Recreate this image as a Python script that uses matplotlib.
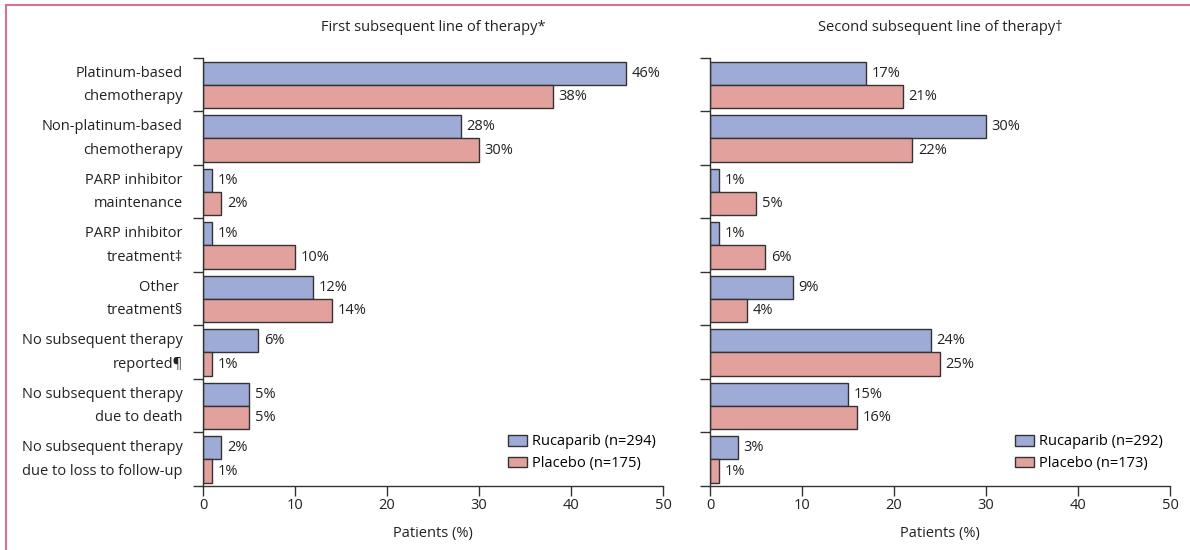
import numpy as np
import matplotlib.pyplot as plt
from matplotlib.lines import Line2D
from matplotlib.patches import Patch

plt.rcParams['font.family'] = ['Open Sans', 'DejaVu Sans']

categories = [
    ("Platinum-based", "chemotherapy"),
    ("Non-platinum-based", "chemotherapy"),
    ("PARP inhibitor", "maintenance"),
    ("PARP inhibitor", "treatment\u2021"),
    ("Other ", "treatment\u00a7"),
    ("No subsequent therapy", "reported\u00b6"),
    ("No subsequent therapy", "due to death"),
    ("No subsequent therapy", "due to loss to follow-up"),
]

# first subsequent line
first_ruca = [46, 28, 1, 1, 12, 6, 5, 2]
first_plac = [38, 30, 2, 10, 14, 1, 5, 1]
# second subsequent line
second_ruca = [17, 30, 1, 1, 9, 24, 15, 3]
second_plac = [21, 22, 5, 6, 4, 25, 16, 1]

titles = ["First subsequent line of therapy*", "Second subsequent line of therapy\u2020"]
legend_labels = [("Rucaparib (n=294)", "Placebo (n=175)"),
                 ("Rucaparib (n=292)", "Placebo (n=173)")]
xticks = [0, 10, 20, 30, 40, 50]

c_ruca = "#9dabd6"
c_plac = "#e2a19d"
txt = "#222222"
fs = 10.5

fig = plt.figure(figsize=(11.9, 5.5), dpi=100)
axes = [fig.add_axes([0.1706, 0.1164, 0.3866, 0.7782]),
        fig.add_axes([0.5966, 0.1164, 0.3866, 0.7782])]

n = len(categories)
pos = np.arange(n)
h = 0.435
y_r = pos + 0.07 + h / 2
y_p = pos + 0.07 + h + h / 2

panels = [(first_ruca, first_plac), (second_ruca, second_plac)]

for k, ax in enumerate(axes):
    ruca, plac = panels[k]
    ax.barh(y_r, ruca, height=h, color=c_ruca, edgecolor="#333333", linewidth=1.0)
    ax.barh(y_p, plac, height=h, color=c_plac, edgecolor="#333333", linewidth=1.0)
    for y, v in zip(y_r, ruca):
        ax.annotate(f"{v}%", (v, y), xytext=(4, 0), textcoords="offset points",
                    va="center", ha="left", fontsize=fs, color=txt)
    for y, v in zip(y_p, plac):
        ax.annotate(f"{v}%", (v, y), xytext=(4, 0), textcoords="offset points",
                    va="center", ha="left", fontsize=fs, color=txt)

    ax.set_xlim(0, 50)
    ax.set_ylim(n, 0)
    ax.set_yticks(np.arange(n + 1))
    ax.set_yticklabels([])
    ax.set_xticks(xticks)
    ax.tick_params(axis="y", length=7, width=1, color="#333333", direction="out")
    ax.tick_params(axis="x", length=7, width=1, color="#333333", labelsize=fs,
                   labelcolor=txt, pad=2)
    for s in ["top", "right"]:
        ax.spines[s].set_visible(False)
    for s in ["left", "bottom"]:
        ax.spines[s].set_color("#333333")
        ax.spines[s].set_linewidth(1)
    ax.set_xlabel("Patients (%)", fontsize=fs, color=txt, labelpad=9)
    ax.text(0.5, 1 + 30 / 428, titles[k], transform=ax.transAxes,
            ha="center", va="center", fontsize=fs, color=txt)

    handles = [Patch(facecolor=c_ruca, edgecolor="#333333", linewidth=1),
               Patch(facecolor=c_plac, edgecolor="#333333", linewidth=1)]
    ax.legend(handles, legend_labels[k], loc="lower right", bbox_to_anchor=(1.0, 0.018),
              frameon=False, fontsize=fs, handlelength=1.3, handleheight=0.75,
              handletextpad=0.35, labelspacing=0.45, borderpad=0)

# category names, two lines per group
for i, (l1, l2) in enumerate(categories):
    axes[0].text(-2.2, y_r[i], l1, ha="right", va="center", fontsize=fs, color=txt)
    axes[0].text(-2.2, y_p[i], l2, ha="right", va="center", fontsize=fs, color=txt)

# frame lines along the left and top edges
frame = "#d4728f"
fig.add_artist(Line2D([6 / 1190, 6 / 1190], [0, 1 - 5 / 550], color=frame, lw=1.5,
                      transform=fig.transFigure))
fig.add_artist(Line2D([6 / 1190, 1], [1 - 5 / 550, 1 - 5 / 550], color=frame, lw=1.5,
                      transform=fig.transFigure))

fig.savefig("out.png", dpi=100)
